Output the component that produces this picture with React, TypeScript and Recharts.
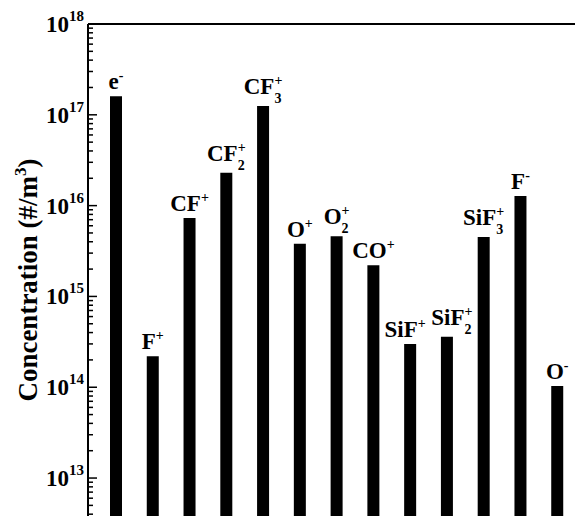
import React from 'react';
import { BarChart, Bar, XAxis, YAxis, ReferenceLine, LabelList, Label } from 'recharts';

// species on the x axis, concentration in #/m^3
const species = ['e-', 'F+', 'CF+', 'CF2+', 'CF3+', 'O+', 'O2+', 'CO+', 'SiF+', 'SiF2+', 'SiF3+', 'F-', 'O-'];
const concentration = [1.6e17, 2.2e14, 7.3e15, 2.3e16, 1.25e17, 3.8e15, 4.6e15, 2.2e15, 3.0e14, 3.6e14, 4.5e15, 1.28e16, 1.03e14];

const majorTicks = [1e13, 1e14, 1e15, 1e16, 1e17, 1e18];
const yMin = 3.82e12;
const yMax = 1e18;

const data = species.map((name, i) => ({ name, value: concentration[i] }));

const allTicks: number[] = [];
[1e12, ...majorTicks].forEach((m) => {
  for (let k = 1; k <= 9; k++) {
    const t = m * k;
    if (t >= yMin && t <= yMax) allTicks.push(t);
  }
});

const FONT = '"Liberation Serif", "Times New Roman", serif';

// the two SiF labels are squeezed apart in the original
const labelShift: Record<string, number> = { 'SiF+': -5, 'SiF2+': 5 };

const isMajor = (v: number) => {
  const e = Math.log10(v);
  return Math.abs(e - Math.round(e)) < 1e-6;
};

const LeftTick = (props: any) => {
  const { x, y, payload } = props;
  const v = payload.value;
  const major = isMajor(v);
  return (
    <g>
      <line x1={x} x2={x + (major ? 9 : 5)} y1={y} y2={y} stroke="#000" strokeWidth={1.5} />
      {major && (
        <text x={x - 4} y={y + 8} textAnchor="end" fontFamily={FONT} fontWeight="bold" fontSize={23} fill="#000">
          10
          <tspan dy={-11} fontSize={15}>{Math.round(Math.log10(v))}</tspan>
        </text>
      )}
    </g>
  );
};

const RightTick = (props: any) => {
  const { x, y, payload } = props;
  const major = isMajor(payload.value);
  return <line x1={x} x2={x - (major ? 8 : 5)} y1={y} y2={y} stroke="#000" strokeWidth={1.5} />;
};

const AxisTitle = (props: any) => {
  const { viewBox } = props;
  const cx = viewBox.x + 29;
  const cy = viewBox.y + viewBox.height / 2 + 10;
  return (
    <text
      x={cx}
      y={cy}
      transform={`rotate(-90 ${cx} ${cy})`}
      textAnchor="middle"
      fontFamily={FONT}
      fontWeight="bold"
      fontSize={27}
      fill="#000"
    >
      Concentration (#/m
      <tspan dy={-11} fontSize={17}>3</tspan>
      <tspan dy={11}>)</tspan>
    </text>
  );
};

const SpeciesLabel = (props: any) => {
  const { x, y, width, value } = props;
  const m = /^([A-Za-z]+?)(\d?)([+-])$/.exec(value as string);
  const base = m ? m[1] : value;
  const sub = m ? m[2] : '';
  const sup = m ? m[3] : '';
  const cx = x + width / 2 + (labelShift[value] || 0);
  const gap = sub ? 12 : 7;
  const supW = sup === '+' ? 8 : 5;
  return (
    <text x={cx} y={y - gap} textAnchor="middle" fontFamily={FONT} fontWeight="bold" fontSize={23} fill="#000">
      {base}
      <tspan dy={-9} fontSize={14}>{sup}</tspan>
      {sub && (
        <tspan dx={-supW} dy={18} fontSize={14}>
          {sub}
        </tspan>
      )}
    </text>
  );
};

export default function App() {
  return (
    <BarChart width={575} height={508} data={data} margin={{ top: 16, right: 0, bottom: 0, left: 0 }}>
      <XAxis dataKey="name" hide padding={{ left: 10, right: 7 }} />
      <YAxis
        yAxisId="l"
        scale="log"
        type="number"
        domain={[yMin, yMax]}
        allowDataOverflow
        ticks={allTicks}
        interval={0}
        width={80}
        tickSize={0}
        tickMargin={0}
        tickLine={false}
        axisLine={{ stroke: '#000', strokeWidth: 2 }}
        tick={<LeftTick />}
      >
        <Label content={<AxisTitle />} />
      </YAxis>
      <YAxis
        yAxisId="r"
        orientation="right"
        scale="log"
        type="number"
        domain={[yMin, yMax]}
        allowDataOverflow
        ticks={allTicks}
        interval={0}
        width={0}
        tickSize={0}
        tickMargin={0}
        tickLine={false}
        axisLine={false}
        tick={<RightTick />}
      />
      <ReferenceLine yAxisId="l" y={yMax} stroke="#000" strokeWidth={2} />
      <Bar yAxisId="l" dataKey="value" fill="#000" barSize={12} isAnimationActive={false}>
        <LabelList dataKey="name" content={<SpeciesLabel />} />
      </Bar>
    </BarChart>
  );
}
